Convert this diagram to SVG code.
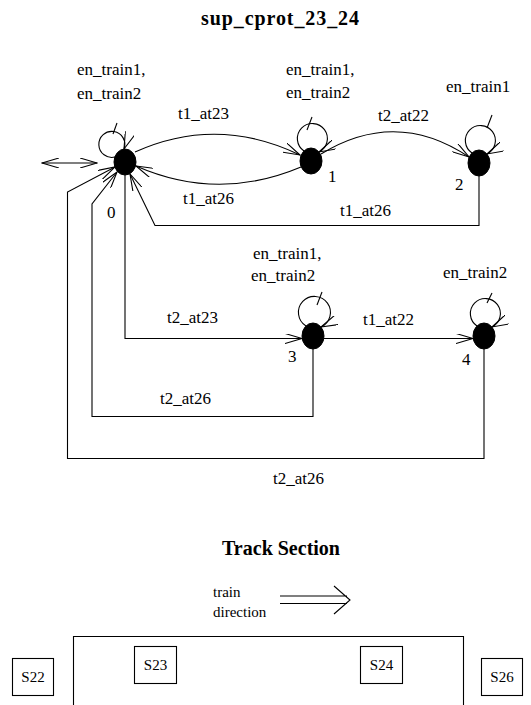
<svg xmlns="http://www.w3.org/2000/svg" width="531" height="705" viewBox="0 0 531 705">
<style>
.e{fill:none;stroke:#000;stroke-width:1.1}
.a{marker-end:url(#ah)}
.n{fill:#000;stroke:#000}
.t{font-family:"Liberation Serif","Times New Roman",serif;font-size:17px;fill:#000}
.h{font-family:"Liberation Serif","Times New Roman",serif;font-size:20px;font-weight:bold;fill:#000;text-anchor:middle}
.s{font-family:"Liberation Serif","Times New Roman",serif;font-size:15px;fill:#000}
.b{fill:#fff;stroke:#000;stroke-width:1.1}
</style>
<defs>
<marker id="ah" viewBox="0 0 18 10" refX="17" refY="5" markerWidth="18" markerHeight="10" markerUnits="userSpaceOnUse" orient="auto-start-reverse">
<path d="M0,0 L17,5 L0,10" fill="none" stroke="#000" stroke-width="1.1"/>
</marker>
</defs>
<rect width="531" height="705" fill="#fff"/>
<text class="h" x="280" y="25" textLength="158">sup_cprot_23_24</text>

<g id="connectors">
<path class="e" d="M42,163 H97" marker-start="url(#ah)" marker-end="url(#ah)"/>
<path class="e a" d="M115,157 A13,13 0 1 1 124,149"/>
<path class="e" d="M117,123 L113,134"/>
<path class="e a" d="M304,151 A15,15 0 1 1 319,152"/>
<path class="e" d="M312,117 L307,130"/>
<path class="e a" d="M472,153 A15,15 0 1 1 487,154"/>
<path class="e" d="M492,115 L487,128"/>
<path class="e a" d="M306,326 A16,16 0 1 1 321,327"/>
<path class="e" d="M322,292 L317,305"/>
<path class="e a" d="M477,326 A15,15 0 1 1 492,327"/>
<path class="e" d="M492,293 L487,303"/>
<path class="e a" d="M135,152 Q217,115 300,155"/>
<path class="e a" d="M301,167 Q218,202 136,166"/>
<path class="e a" d="M321,154 Q396,108 469,157"/>
<path class="e a" d="M479,176 V225.5 H155 L130,174"/>
<path class="e a" d="M125,175 V338.5 H302"/>
<path class="e a" d="M324,338.5 H473"/>
<path class="e a" d="M313,349 V416.5 H92 V204 L117,172"/>
<path class="e a" d="M484,349 V458.5 H67.5 V192 L115,167"/>
<text class="t" x="77" y="75">en_train1,</text>
<text class="t" x="77" y="99">en_train2</text>
<text class="t" x="286" y="75">en_train1,</text>
<text class="t" x="286" y="98">en_train2</text>
<text class="t" x="446" y="92">en_train1</text>
<text class="t" x="253" y="259">en_train1,</text>
<text class="t" x="251" y="281">en_train2</text>
<text class="t" x="443" y="278">en_train2</text>
<text class="t" x="178" y="119">t1_at23</text>
<text class="t" x="378" y="121">t2_at22</text>
<text class="t" x="183" y="204">t1_at26</text>
<text class="t" x="340" y="216">t1_at26</text>
<text class="t" x="167" y="323">t2_at23</text>
<text class="t" x="363" y="325">t1_at22</text>
<text class="t" x="160" y="404">t2_at26</text>
<text class="t" x="273" y="484">t2_at26</text>
</g>

<g id="node0"><ellipse class="n" cx="125" cy="162" rx="11" ry="13"/><text class="t" x="107" y="218">0</text></g>
<g id="node1"><ellipse class="n" cx="311" cy="161" rx="11" ry="13"/><text class="t" x="328" y="182">1</text></g>
<g id="node2"><ellipse class="n" cx="479" cy="163" rx="11" ry="13"/><text class="t" x="455" y="190">2</text></g>
<g id="node3"><ellipse class="n" cx="313" cy="336" rx="11" ry="13"/><text class="t" x="288" y="362">3</text></g>
<g id="node4"><ellipse class="n" cx="484" cy="336" rx="11" ry="13"/><text class="t" x="462" y="365">4</text></g>

<g id="track">
<text class="h" x="281" y="555">Track Section</text>
<text class="s" x="213" y="597">train</text>
<text class="s" x="213" y="617">direction</text>
<path class="e" d="M280,596 H347 M280,603.5 H347 M334,586 L350,600 L334,614"/>
<path class="e" d="M73.5,706 V636.5 H463.5 V706"/>
<g id="S22"><rect class="b" x="12.5" y="658.5" width="41" height="37"/><text class="s" x="33" y="682" text-anchor="middle">S22</text></g>
<g id="S23"><rect class="b" x="134.5" y="646.5" width="42" height="37"/><text class="s" x="155.5" y="670" text-anchor="middle">S23</text></g>
<g id="S24"><rect class="b" x="360.5" y="646.5" width="42" height="37"/><text class="s" x="381.5" y="670" text-anchor="middle">S24</text></g>
<g id="S26"><rect class="b" x="481.5" y="658.5" width="41" height="37"/><text class="s" x="502" y="682" text-anchor="middle">S26</text></g>
</g>
</svg>
